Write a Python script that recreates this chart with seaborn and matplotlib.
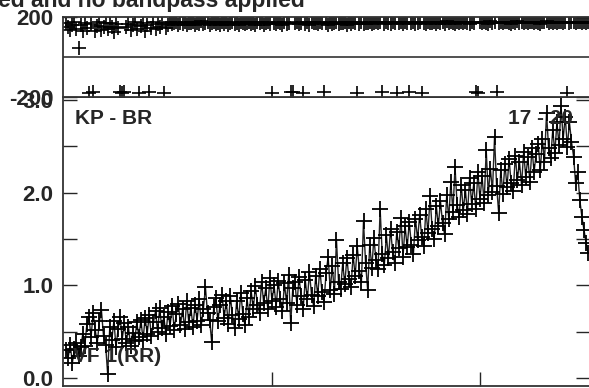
import matplotlib
matplotlib.use("Agg")
import matplotlib.pyplot as plt
import seaborn as sns
import pandas as pd

# amplitude per channel (channels 1..252)
amplitude = [
    0.30, 0.22, 0.36, 0.16, 0.31, 0.38, 0.24, 0.33, 0.47, 0.35,
    0.58, 0.66, 0.44, 0.70, 0.52, 0.38, 0.61, 0.73, 0.45, 0.36,
    0.04, 0.55, 0.41, 0.62, 0.33, 0.53, 0.66, 0.42, 0.59, 0.38,
    0.55, 0.35, 0.49, 0.40, 0.60, 0.44, 0.63, 0.41, 0.65, 0.48,
    0.68, 0.45, 0.60, 0.72, 0.50, 0.76, 0.54, 0.66, 0.47, 0.71,
    0.56, 0.78, 0.52, 0.69, 0.80, 0.57, 0.74, 0.53, 0.83, 0.60,
    0.76, 0.55, 0.79, 0.62, 0.85, 0.57, 0.74, 0.98, 0.70, 0.63,
    0.39, 0.77, 0.86, 0.61, 0.79, 0.90, 0.65, 0.83, 0.58, 0.88,
    0.68, 0.54, 0.83, 0.64, 0.92, 0.69, 0.57, 0.86, 0.66, 0.94,
    0.74, 0.99, 0.79, 0.70, 1.04, 0.81, 0.97, 0.74, 1.08, 0.83,
    1.00, 0.77, 1.05, 0.85, 0.72, 1.02, 0.81, 1.11, 0.59, 0.97,
    1.04, 0.79, 1.09, 0.88, 0.75, 1.06, 0.85, 1.14, 0.90, 0.78,
    1.10, 0.89, 1.18, 0.93, 0.82, 1.13, 1.31, 0.95, 1.21, 0.91,
    1.49, 1.04, 0.96, 1.24, 1.01, 1.30, 1.07, 0.98, 1.33, 1.10,
    1.42, 1.16, 1.04, 1.69, 1.24, 0.95, 1.44, 1.19, 1.51, 1.27,
    1.18, 1.82, 1.34, 1.22, 1.54, 1.29, 1.61, 1.36, 1.24, 1.58,
    1.40, 1.73, 1.31, 1.64, 1.41, 1.68, 1.44, 1.34, 1.72, 1.49,
    1.76, 1.52, 1.42, 1.82, 1.56, 1.96, 1.61, 1.50, 1.86, 1.64,
    1.91, 1.67, 1.55, 1.97, 1.72, 2.12, 1.79, 2.28, 1.87, 1.74,
    2.08, 1.81, 2.03, 1.77, 2.16, 1.88, 2.10, 1.82, 2.22, 1.93,
    2.18, 1.89, 2.46, 1.98, 2.26, 2.01, 2.60, 2.07, 1.78, 2.24,
    1.99, 2.31, 2.06, 2.36, 2.10, 2.02, 2.40, 2.14, 2.33, 2.08,
    2.44, 2.17, 2.38, 2.12, 2.48, 2.22, 2.42, 2.53, 2.24, 2.58,
    2.33, 2.86, 2.48, 2.37, 2.68, 2.43, 2.76, 2.51, 2.93, 2.58,
    2.82, 2.49, 2.76, 2.55, 2.39, 2.10, 2.22, 1.92, 1.74, 1.60,
    1.46, 1.35,
]

# phase per channel (degrees)
phase = [
    168, 148, 135, 162, 176, 142, 45, 160, 131, 171,
    145, -178, 166, -176, 128, 155, 174, 133, 150, 168,
    138, 170, 152, 127, 163, 144, -177, -179, -175, 150,
    167, 136, 158, 173, 141, -178, 155, 170, 132, 161,
    -176, 146, 174, 139, 165, 152, 172, -179, 143, 160,
    174, 163, 169, 177, 160, 171, 166, 175, 162, 170,
    168, 176, 159, 172, 165, 178, 163, 170, 174, 161,
    169, 175, 164, 171, 158, 173, 167, 176, 162, 170,
    174, 165, 171, 160, 177, 168, 163, 172, 175, 166,
    170, 162, 176, 168, 173, 159, 171, 175, 166, -179,
    172, 164, 177, 169, 161, 174, 167, 171, -177, -175,
    168, 175, 163, 170, -178, 166, 173, 160, 176, 169,
    171, 165, 174, 168, -176, 172, 162, 177, 167, 170,
    175, 164, 171, 169, 176, 161, 173, 167, 174, 170,
    -178, 166, 175, 163, 172, 169, 177, 165, 171, 174,
    168, 176, -177, 164, 173, 170, 166, 175, 171, -179,
    169, 174, 165, 177, 172, -176, 168, 175, 163, 171,
    176, -178, 170, 166, 174, 172, 168, 177, 164, 173,
    171, 175, 167, 178, 169, 174, 172, 166, 176, 170,
    173, 168, 177, 171, 165, 175, 170, -177, -179, 174,
    169, 176, 172, 167, 178, 171, 174, -176, 170, 175,
    168, 173, 177, 170, 166, 175, 172, 178, 169, 174,
    171, 176, 168, 173, 177, 170, 175, 172, 167, 176,
    173, 178, 170, 175, 171, 177, 169, 174, 176, 172,
    175, -178, 171, 177, 173, 168, 176, 174, 170, 175,
    172, 177,
]

channels = list(range(1, len(amplitude) + 1))

title = "ed and no bandpass applied"
baseline_label = "KP - BR"
chan_label = "17 - 20"
pol_label = "VF 1(RR)"

df = pd.DataFrame({"chan": channels, "amp": amplitude, "phase": phase})

sns.set_style("white")
plt.rcParams["font.family"] = ["Liberation Sans", "DejaVu Sans"]
plt.rcParams["font.weight"] = "bold"
plt.rcParams["axes.unicode_minus"] = False

W, H = 589, 388
fig = plt.figure(figsize=(W / 100, H / 100), dpi=100)
left = 63 / W
width = (590 - 63) / W
ax_amp = fig.add_axes([left, (H - 386) / H, width, (386 - 97) / H])
ax_ph = fig.add_axes([left, (H - 97) / H, width, (97 - 17) / H])

xlim = (-0.48, 252.9)

# amplitude panel
sns.lineplot(data=df, x="chan", y="amp", ax=ax_amp, color="#222222",
             linewidth=1.0, marker="+", markersize=11, markeredgewidth=1.3,
             markeredgecolor="black")
ax_amp.set_xlim(*xlim)
ax_amp.set_ylim(-0.086, 3.032)
ax_amp.set_yticks([0, 1, 2, 3])
ax_amp.set_yticklabels(["0.0", "1.0", "2.0", "3.0"])
ax_amp.set_yticks([0.5, 1.5, 2.5], minor=True)
ax_amp.set_xticks([100, 200])
ax_amp.tick_params(axis="y", which="major", direction="in", length=10, width=1,
                   left=True, right=True, labelsize=16, pad=7)
ax_amp.tick_params(axis="y", which="minor", direction="in", length=10, width=1,
                   left=True, right=True)
ax_amp.tick_params(axis="x", direction="in", length=10, width=1,
                   bottom=True, labelbottom=False)
ax_amp.set_xlabel("")
ax_amp.set_ylabel("")
ax_amp.text((75 - 63) / 527, (386 - 118) / 289, baseline_label,
            transform=ax_amp.transAxes, fontsize=15, fontweight="bold",
            va="center", ha="left")
ax_amp.text((573 - 63) / 527, (386 - 118) / 289, chan_label,
            transform=ax_amp.transAxes, fontsize=15, fontweight="bold",
            va="center", ha="right")
ax_amp.text((73 - 63) / 527, (386 - 356) / 289, pol_label,
            transform=ax_amp.transAxes, fontsize=15, fontweight="bold",
            va="center", ha="left")

# phase panel
sns.scatterplot(data=df, x="chan", y="phase", ax=ax_ph, color="black",
                marker="+", s=110, linewidth=1.2)
ax_ph.axhline(0, color="#333333", linewidth=1.2)
ax_ph.set_xlim(*xlim)
ax_ph.set_ylim(-200, 200)
ax_ph.set_yticks([-200, 200])
ax_ph.set_xticks([])
ax_ph.tick_params(axis="y", direction="in", length=10, width=1,
                  left=True, right=True, labelsize=16, pad=7)
ax_ph.set_xlabel("")
ax_ph.set_ylabel("")

for ax in (ax_amp, ax_ph):
    for sp in ax.spines.values():
        sp.set_linewidth(1.3)
        sp.set_color("#333333")
    for lab in ax.get_yticklabels():
        lab.set_fontweight("bold")

fig.text(305 / W, 1 - 7 / H, title, ha="right", va="baseline",
         fontsize=16.5, fontweight="bold")

fig.savefig("out.png", dpi=100)
